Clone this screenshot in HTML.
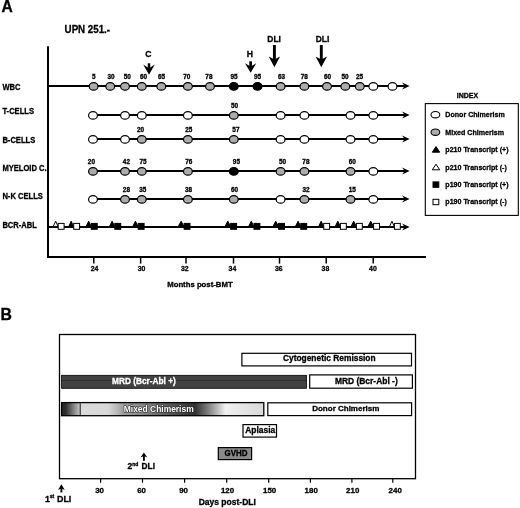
<!DOCTYPE html>
<html><head><meta charset="utf-8"><style>
html,body{margin:0;padding:0;background:#fff;}
body{width:520px;height:508px;overflow:hidden;}
svg{display:block;filter:grayscale(1);}
text{font-family:"Liberation Sans",sans-serif;font-weight:bold;}
</style></head><body>
<svg width="520" height="508" viewBox="0 0 520 508">
<rect x="0" y="0" width="520" height="508" fill="#fff"/>
<text transform="translate(1.4,12.1) scale(0.9524,1)" font-size="16.380" text-anchor="start" fill="#000" stroke="#000" stroke-width="0.3">A</text>
<text transform="translate(64.6,32.6) scale(0.8772,1)" font-size="11.115" text-anchor="start" fill="#000" stroke="#000" stroke-width="0.3">UPN 251.-</text>
<line x1="48" y1="46.3" x2="48" y2="258" stroke="#000" stroke-width="2.0"/>
<line x1="47" y1="257" x2="426" y2="257" stroke="#000" stroke-width="2.0"/>
<line x1="93.8" y1="257" x2="93.8" y2="263.6" stroke="#000" stroke-width="1.5"/>
<text transform="translate(94.5,271.4) scale(0.9259,1)" font-size="7.452" text-anchor="middle" fill="#000" stroke="#000" stroke-width="0.3">24</text>
<line x1="140.6" y1="257" x2="140.6" y2="263.6" stroke="#000" stroke-width="1.5"/>
<text transform="translate(141.6,271.4) scale(0.9259,1)" font-size="7.452" text-anchor="middle" fill="#000" stroke="#000" stroke-width="0.3">30</text>
<line x1="186.0" y1="257" x2="186.0" y2="263.6" stroke="#000" stroke-width="1.5"/>
<text transform="translate(184.8,271.4) scale(0.9259,1)" font-size="7.452" text-anchor="middle" fill="#000" stroke="#000" stroke-width="0.3">32</text>
<line x1="233.5" y1="257" x2="233.5" y2="263.6" stroke="#000" stroke-width="1.5"/>
<text transform="translate(232.4,271.4) scale(0.9259,1)" font-size="7.452" text-anchor="middle" fill="#000" stroke="#000" stroke-width="0.3">34</text>
<line x1="279.5" y1="257" x2="279.5" y2="263.6" stroke="#000" stroke-width="1.5"/>
<text transform="translate(278.8,271.4) scale(0.9259,1)" font-size="7.452" text-anchor="middle" fill="#000" stroke="#000" stroke-width="0.3">36</text>
<line x1="326.2" y1="257" x2="326.2" y2="263.6" stroke="#000" stroke-width="1.5"/>
<text transform="translate(325.4,271.4) scale(0.9259,1)" font-size="7.452" text-anchor="middle" fill="#000" stroke="#000" stroke-width="0.3">38</text>
<line x1="373.2" y1="257" x2="373.2" y2="263.6" stroke="#000" stroke-width="1.5"/>
<text transform="translate(372.9,271.4) scale(0.9259,1)" font-size="7.452" text-anchor="middle" fill="#000" stroke="#000" stroke-width="0.3">40</text>
<text x="167.2" y="287.1" font-size="7.75" text-anchor="start" fill="#000" stroke="#000" stroke-width="0.3">Months post-BMT</text>
<text x="148.4" y="56.9" font-size="8.6" text-anchor="middle" fill="#000" stroke="#000" stroke-width="0.3">C</text>
<rect x="147.75" y="63.3" width="2.5" height="5.400000000000006" fill="#000"/>
<polygon points="143.2,64.4 149.0,68.2 154.8,64.4 149.0,74.8" fill="#000"/>
<text x="249.8" y="57.1" font-size="8.6" text-anchor="middle" fill="#000" stroke="#000" stroke-width="0.3">H</text>
<rect x="249.25" y="61.3" width="2.7" height="5.700000000000003" fill="#000"/>
<polygon points="245.0,63.3 250.6,66.5 256.2,63.3 250.6,72.7" fill="#000"/>
<text x="274.1" y="42.2" font-size="8.4" text-anchor="middle" fill="#000" stroke="#000" stroke-width="0.3">DLI</text>
<rect x="272.95" y="45.0" width="2.9" height="15.0" fill="#000"/>
<polygon points="268.7,56.4 274.4,59.5 280.09999999999997,56.4 274.4,67.3" fill="#000"/>
<text x="322.5" y="42.2" font-size="8.4" text-anchor="middle" fill="#000" stroke="#000" stroke-width="0.3">DLI</text>
<rect x="319.85" y="45.0" width="2.9" height="15.0" fill="#000"/>
<polygon points="315.6,56.4 321.3,59.5 327.0,56.4 321.3,67.3" fill="#000"/>
<text transform="translate(2.4,89.8) scale(0.9091,1)" font-size="8.360" text-anchor="start" fill="#000" stroke="#000" stroke-width="0.3">WBC</text>
<text transform="translate(2.4,114.2) scale(0.9091,1)" font-size="8.360" text-anchor="start" fill="#000" stroke="#000" stroke-width="0.3">T-CELLS</text>
<text transform="translate(2.4,142.7) scale(0.9091,1)" font-size="8.360" text-anchor="start" fill="#000" stroke="#000" stroke-width="0.3">B-CELLS</text>
<text transform="translate(2.4,171.3) scale(0.9091,1)" font-size="8.360" text-anchor="start" fill="#000" stroke="#000" stroke-width="0.3">MYELOID C.</text>
<text transform="translate(2.4,199.3) scale(0.9091,1)" font-size="8.360" text-anchor="start" fill="#000" stroke="#000" stroke-width="0.3">N-K CELLS</text>
<text transform="translate(2.4,228.0) scale(0.9091,1)" font-size="8.360" text-anchor="start" fill="#000" stroke="#000" stroke-width="0.3">BCR-ABL</text>
<line x1="48" y1="86.0" x2="405" y2="86.0" stroke="#000" stroke-width="1.8"/>
<polygon points="409.6,86.0 402.1,82.6 404.6,86.0 402.1,89.4" fill="#000"/>
<line x1="92.7" y1="115.0" x2="405" y2="115.0" stroke="#000" stroke-width="1.8"/>
<polygon points="409.6,115.0 402.1,111.6 404.6,115.0 402.1,118.4" fill="#000"/>
<line x1="92.7" y1="139.0" x2="405" y2="139.0" stroke="#000" stroke-width="1.8"/>
<polygon points="409.6,139.0 402.1,135.6 404.6,139.0 402.1,142.4" fill="#000"/>
<line x1="92.7" y1="171.0" x2="405" y2="171.0" stroke="#000" stroke-width="1.8"/>
<polygon points="409.6,171.0 402.1,167.6 404.6,171.0 402.1,174.4" fill="#000"/>
<line x1="92.7" y1="199.0" x2="405" y2="199.0" stroke="#000" stroke-width="1.8"/>
<polygon points="409.6,199.0 402.1,195.6 404.6,199.0 402.1,202.4" fill="#000"/>
<line x1="48" y1="227.0" x2="405" y2="227.0" stroke="#000" stroke-width="1.8"/>
<polygon points="409.6,227.0 402.1,223.6 404.6,227.0 402.1,230.4" fill="#000"/>
<ellipse cx="93.6" cy="86.4" rx="4.4" ry="3.8" fill="#ababab" stroke="#000" stroke-width="1.2"/>
<text x="93.9" y="79.1" font-size="6.4" text-anchor="middle" fill="#000" stroke="#000" stroke-width="0.3">5</text>
<ellipse cx="110.2" cy="86.4" rx="4.4" ry="3.8" fill="#ababab" stroke="#000" stroke-width="1.2"/>
<text x="111.0" y="79.1" font-size="6.4" text-anchor="middle" fill="#000" stroke="#000" stroke-width="0.3">30</text>
<ellipse cx="125.0" cy="86.4" rx="4.4" ry="3.8" fill="#ababab" stroke="#000" stroke-width="1.2"/>
<text x="127.3" y="79.1" font-size="6.4" text-anchor="middle" fill="#000" stroke="#000" stroke-width="0.3">50</text>
<ellipse cx="141.8" cy="86.4" rx="4.4" ry="3.8" fill="#ababab" stroke="#000" stroke-width="1.2"/>
<text x="143.6" y="79.1" font-size="6.4" text-anchor="middle" fill="#000" stroke="#000" stroke-width="0.3">60</text>
<ellipse cx="161.3" cy="86.4" rx="4.4" ry="3.8" fill="#ababab" stroke="#000" stroke-width="1.2"/>
<text x="161.6" y="79.1" font-size="6.4" text-anchor="middle" fill="#000" stroke="#000" stroke-width="0.3">65</text>
<ellipse cx="187.9" cy="86.4" rx="4.4" ry="3.8" fill="#ababab" stroke="#000" stroke-width="1.2"/>
<text x="186.7" y="79.1" font-size="6.4" text-anchor="middle" fill="#000" stroke="#000" stroke-width="0.3">70</text>
<ellipse cx="210.0" cy="86.4" rx="4.4" ry="3.8" fill="#ababab" stroke="#000" stroke-width="1.2"/>
<text x="208.9" y="79.1" font-size="6.4" text-anchor="middle" fill="#000" stroke="#000" stroke-width="0.3">78</text>
<ellipse cx="233.8" cy="86.4" rx="4.4" ry="3.8" fill="#000" stroke="#000" stroke-width="1.2"/>
<text x="234.1" y="79.1" font-size="6.4" text-anchor="middle" fill="#000" stroke="#000" stroke-width="0.3">95</text>
<ellipse cx="257.5" cy="86.4" rx="4.4" ry="3.8" fill="#000" stroke="#000" stroke-width="1.2"/>
<text x="257.6" y="79.1" font-size="6.4" text-anchor="middle" fill="#000" stroke="#000" stroke-width="0.3">95</text>
<ellipse cx="280.6" cy="86.4" rx="4.4" ry="3.8" fill="#ababab" stroke="#000" stroke-width="1.2"/>
<text x="281.6" y="79.1" font-size="6.4" text-anchor="middle" fill="#000" stroke="#000" stroke-width="0.3">63</text>
<ellipse cx="304.4" cy="86.4" rx="4.4" ry="3.8" fill="#ababab" stroke="#000" stroke-width="1.2"/>
<text x="304.3" y="79.1" font-size="6.4" text-anchor="middle" fill="#000" stroke="#000" stroke-width="0.3">78</text>
<ellipse cx="327.0" cy="86.4" rx="4.4" ry="3.8" fill="#ababab" stroke="#000" stroke-width="1.2"/>
<text x="327.5" y="79.1" font-size="6.4" text-anchor="middle" fill="#000" stroke="#000" stroke-width="0.3">60</text>
<ellipse cx="345.3" cy="86.4" rx="4.4" ry="3.8" fill="#ababab" stroke="#000" stroke-width="1.2"/>
<text x="345.0" y="79.1" font-size="6.4" text-anchor="middle" fill="#000" stroke="#000" stroke-width="0.3">50</text>
<ellipse cx="359.8" cy="86.4" rx="4.4" ry="3.8" fill="#ababab" stroke="#000" stroke-width="1.2"/>
<text x="359.5" y="79.1" font-size="6.4" text-anchor="middle" fill="#000" stroke="#000" stroke-width="0.3">25</text>
<ellipse cx="373.3" cy="86.4" rx="4.4" ry="3.8" fill="#fff" stroke="#000" stroke-width="1.2"/>
<ellipse cx="392.5" cy="86.4" rx="4.4" ry="3.8" fill="#fff" stroke="#000" stroke-width="1.2"/>
<ellipse cx="93.0" cy="115.4" rx="4.4" ry="3.8" fill="#fff" stroke="#000" stroke-width="1.2"/>
<ellipse cx="125.0" cy="115.4" rx="4.4" ry="3.8" fill="#fff" stroke="#000" stroke-width="1.2"/>
<ellipse cx="141.8" cy="115.4" rx="4.4" ry="3.8" fill="#fff" stroke="#000" stroke-width="1.2"/>
<ellipse cx="187.9" cy="115.4" rx="4.4" ry="3.8" fill="#fff" stroke="#000" stroke-width="1.2"/>
<ellipse cx="233.8" cy="115.4" rx="4.4" ry="3.8" fill="#ababab" stroke="#000" stroke-width="1.2"/>
<text x="234.6" y="108.1" font-size="6.4" text-anchor="middle" fill="#000" stroke="#000" stroke-width="0.3">50</text>
<ellipse cx="280.6" cy="115.4" rx="4.4" ry="3.8" fill="#fff" stroke="#000" stroke-width="1.2"/>
<ellipse cx="304.4" cy="115.4" rx="4.4" ry="3.8" fill="#fff" stroke="#000" stroke-width="1.2"/>
<ellipse cx="350.5" cy="115.4" rx="4.4" ry="3.8" fill="#fff" stroke="#000" stroke-width="1.2"/>
<ellipse cx="373.3" cy="115.4" rx="4.4" ry="3.8" fill="#fff" stroke="#000" stroke-width="1.2"/>
<ellipse cx="93.0" cy="139.4" rx="4.4" ry="3.8" fill="#fff" stroke="#000" stroke-width="1.2"/>
<ellipse cx="125.0" cy="139.4" rx="4.4" ry="3.8" fill="#fff" stroke="#000" stroke-width="1.2"/>
<ellipse cx="141.8" cy="139.4" rx="4.4" ry="3.8" fill="#ababab" stroke="#000" stroke-width="1.2"/>
<text x="140.5" y="132.1" font-size="6.4" text-anchor="middle" fill="#000" stroke="#000" stroke-width="0.3">20</text>
<ellipse cx="187.9" cy="139.4" rx="4.4" ry="3.8" fill="#ababab" stroke="#000" stroke-width="1.2"/>
<text x="188.7" y="132.1" font-size="6.4" text-anchor="middle" fill="#000" stroke="#000" stroke-width="0.3">25</text>
<ellipse cx="233.8" cy="139.4" rx="4.4" ry="3.8" fill="#ababab" stroke="#000" stroke-width="1.2"/>
<text x="235.9" y="132.1" font-size="6.4" text-anchor="middle" fill="#000" stroke="#000" stroke-width="0.3">57</text>
<ellipse cx="280.6" cy="139.4" rx="4.4" ry="3.8" fill="#fff" stroke="#000" stroke-width="1.2"/>
<ellipse cx="304.4" cy="139.4" rx="4.4" ry="3.8" fill="#fff" stroke="#000" stroke-width="1.2"/>
<ellipse cx="350.5" cy="139.4" rx="4.4" ry="3.8" fill="#fff" stroke="#000" stroke-width="1.2"/>
<ellipse cx="373.3" cy="139.4" rx="4.4" ry="3.8" fill="#fff" stroke="#000" stroke-width="1.2"/>
<ellipse cx="93.0" cy="171.4" rx="4.4" ry="3.8" fill="#ababab" stroke="#000" stroke-width="1.2"/>
<text x="91.4" y="164.1" font-size="6.4" text-anchor="middle" fill="#000" stroke="#000" stroke-width="0.3">20</text>
<ellipse cx="125.0" cy="171.4" rx="4.4" ry="3.8" fill="#ababab" stroke="#000" stroke-width="1.2"/>
<text x="126.4" y="164.1" font-size="6.4" text-anchor="middle" fill="#000" stroke="#000" stroke-width="0.3">42</text>
<ellipse cx="141.8" cy="171.4" rx="4.4" ry="3.8" fill="#ababab" stroke="#000" stroke-width="1.2"/>
<text x="143.0" y="164.1" font-size="6.4" text-anchor="middle" fill="#000" stroke="#000" stroke-width="0.3">75</text>
<ellipse cx="187.9" cy="171.4" rx="4.4" ry="3.8" fill="#ababab" stroke="#000" stroke-width="1.2"/>
<text x="188.8" y="164.1" font-size="6.4" text-anchor="middle" fill="#000" stroke="#000" stroke-width="0.3">76</text>
<ellipse cx="233.8" cy="171.4" rx="4.4" ry="3.8" fill="#000" stroke="#000" stroke-width="1.2"/>
<text x="236.4" y="164.1" font-size="6.4" text-anchor="middle" fill="#000" stroke="#000" stroke-width="0.3">95</text>
<ellipse cx="280.6" cy="171.4" rx="4.4" ry="3.8" fill="#ababab" stroke="#000" stroke-width="1.2"/>
<text x="282.5" y="164.1" font-size="6.4" text-anchor="middle" fill="#000" stroke="#000" stroke-width="0.3">50</text>
<ellipse cx="304.4" cy="171.4" rx="4.4" ry="3.8" fill="#ababab" stroke="#000" stroke-width="1.2"/>
<text x="305.9" y="164.1" font-size="6.4" text-anchor="middle" fill="#000" stroke="#000" stroke-width="0.3">78</text>
<ellipse cx="350.5" cy="171.4" rx="4.4" ry="3.8" fill="#ababab" stroke="#000" stroke-width="1.2"/>
<text x="352.2" y="164.1" font-size="6.4" text-anchor="middle" fill="#000" stroke="#000" stroke-width="0.3">60</text>
<ellipse cx="373.3" cy="171.4" rx="4.4" ry="3.8" fill="#fff" stroke="#000" stroke-width="1.2"/>
<ellipse cx="93.0" cy="199.4" rx="4.4" ry="3.8" fill="#fff" stroke="#000" stroke-width="1.2"/>
<ellipse cx="125.0" cy="199.4" rx="4.4" ry="3.8" fill="#ababab" stroke="#000" stroke-width="1.2"/>
<text x="126.4" y="192.1" font-size="6.4" text-anchor="middle" fill="#000" stroke="#000" stroke-width="0.3">28</text>
<ellipse cx="141.8" cy="199.4" rx="4.4" ry="3.8" fill="#ababab" stroke="#000" stroke-width="1.2"/>
<text x="142.7" y="192.1" font-size="6.4" text-anchor="middle" fill="#000" stroke="#000" stroke-width="0.3">35</text>
<ellipse cx="187.9" cy="199.4" rx="4.4" ry="3.8" fill="#ababab" stroke="#000" stroke-width="1.2"/>
<text x="188.6" y="192.1" font-size="6.4" text-anchor="middle" fill="#000" stroke="#000" stroke-width="0.3">38</text>
<ellipse cx="233.8" cy="199.4" rx="4.4" ry="3.8" fill="#ababab" stroke="#000" stroke-width="1.2"/>
<text x="234.6" y="192.1" font-size="6.4" text-anchor="middle" fill="#000" stroke="#000" stroke-width="0.3">60</text>
<ellipse cx="280.6" cy="199.4" rx="4.4" ry="3.8" fill="#fff" stroke="#000" stroke-width="1.2"/>
<ellipse cx="304.4" cy="199.4" rx="4.4" ry="3.8" fill="#ababab" stroke="#000" stroke-width="1.2"/>
<text x="306.0" y="192.1" font-size="6.4" text-anchor="middle" fill="#000" stroke="#000" stroke-width="0.3">32</text>
<ellipse cx="350.5" cy="199.4" rx="4.4" ry="3.8" fill="#ababab" stroke="#000" stroke-width="1.2"/>
<text x="352.3" y="192.1" font-size="6.4" text-anchor="middle" fill="#000" stroke="#000" stroke-width="0.3">15</text>
<ellipse cx="373.3" cy="199.4" rx="4.4" ry="3.8" fill="#fff" stroke="#000" stroke-width="1.2"/>
<polygon points="53.2,226.6 55.699999999999996,221.2 58.099999999999994,226.6" fill="#fff" stroke="#000" stroke-width="1"/>
<rect x="58.199999999999996" y="223.4" width="5.9" height="5.9" fill="#fff" stroke="#000" stroke-width="1"/>
<polygon points="68.7,226.6 71.2,221.2 73.6,226.6" fill="#000" stroke="#000" stroke-width="1"/>
<rect x="73.7" y="223.4" width="5.9" height="5.9" fill="#fff" stroke="#000" stroke-width="1"/>
<polygon points="86.0,226.6 88.64999999999999,221.2 91.2,226.6" fill="#000" stroke="#000" stroke-width="1"/>
<rect x="91.30000000000001" y="223.4" width="5.9" height="5.9" fill="#000" stroke="#000" stroke-width="1"/>
<polygon points="109.4,226.6 112.10000000000001,221.2 114.7,226.6" fill="#000" stroke="#000" stroke-width="1"/>
<rect x="114.80000000000001" y="223.4" width="5.9" height="5.9" fill="#000" stroke="#000" stroke-width="1"/>
<polygon points="132.7,226.6 135.45000000000002,221.2 138.10000000000002,226.6" fill="#000" stroke="#000" stroke-width="1"/>
<rect x="138.20000000000002" y="223.4" width="5.9" height="5.9" fill="#000" stroke="#000" stroke-width="1"/>
<polygon points="178.2,226.6 181.15,221.2 184.0,226.6" fill="#000" stroke="#000" stroke-width="1"/>
<rect x="184.1" y="223.4" width="5.9" height="5.9" fill="#000" stroke="#000" stroke-width="1"/>
<polygon points="224.89999999999998,226.6 227.8,221.2 230.60000000000002,226.6" fill="#000" stroke="#000" stroke-width="1"/>
<rect x="230.70000000000002" y="223.4" width="5.9" height="5.9" fill="#000" stroke="#000" stroke-width="1"/>
<polygon points="248.6,226.6 251.3,221.2 253.9,226.6" fill="#000" stroke="#000" stroke-width="1"/>
<rect x="254.0" y="223.4" width="5.9" height="5.9" fill="#000" stroke="#000" stroke-width="1"/>
<polygon points="272.9,226.6 275.75,221.2 278.5,226.6" fill="#000" stroke="#000" stroke-width="1"/>
<rect x="278.59999999999997" y="223.4" width="5.9" height="5.9" fill="#000" stroke="#000" stroke-width="1"/>
<polygon points="295.4,226.6 298.09999999999997,221.2 300.7,226.6" fill="#000" stroke="#000" stroke-width="1"/>
<rect x="300.79999999999995" y="223.4" width="5.9" height="5.9" fill="#000" stroke="#000" stroke-width="1"/>
<polygon points="318.59999999999997,226.6 321.15000000000003,221.2 323.6,226.6" fill="#000" stroke="#000" stroke-width="1"/>
<rect x="323.7" y="223.4" width="5.9" height="5.9" fill="#fff" stroke="#000" stroke-width="1"/>
<polygon points="335.2,226.6 337.8,221.2 340.3,226.6" fill="#000" stroke="#000" stroke-width="1"/>
<rect x="340.4" y="223.4" width="5.9" height="5.9" fill="#fff" stroke="#000" stroke-width="1"/>
<polygon points="351.0,226.6 353.7,221.2 356.3,226.6" fill="#000" stroke="#000" stroke-width="1"/>
<rect x="356.4" y="223.4" width="5.9" height="5.9" fill="#fff" stroke="#000" stroke-width="1"/>
<polygon points="367.9,226.6 370.75,221.2 373.5,226.6" fill="#000" stroke="#000" stroke-width="1"/>
<rect x="373.59999999999997" y="223.4" width="5.9" height="5.9" fill="#fff" stroke="#000" stroke-width="1"/>
<polygon points="389.5,226.6 391.95,221.2 394.3,226.6" fill="#fff" stroke="#000" stroke-width="1"/>
<rect x="394.4" y="223.4" width="5.9" height="5.9" fill="#fff" stroke="#000" stroke-width="1"/>
<text x="467.5" y="98.3" font-size="7.0" text-anchor="middle" fill="#000" stroke="#000" stroke-width="0.3">INDEX</text>
<rect x="425.3" y="103.6" width="93" height="111.8" fill="none" stroke="#000" stroke-width="1.1"/>
<text transform="translate(445.3,117.2) scale(0.9091,1)" font-size="7.810" text-anchor="start" fill="#000" stroke="#000" stroke-width="0.3">Donor Chimerism</text>
<ellipse cx="435.4" cy="114.7" rx="4.4" ry="3.2" fill="#fff" stroke="#000" stroke-width="1.1"/>
<text transform="translate(445.3,134.7) scale(0.9091,1)" font-size="7.810" text-anchor="start" fill="#000" stroke="#000" stroke-width="0.3">Mixed Chimerism</text>
<ellipse cx="435.4" cy="132.2" rx="4.4" ry="3.2" fill="#ababab" stroke="#000" stroke-width="1.1"/>
<text transform="translate(445.3,152.1) scale(0.9091,1)" font-size="7.810" text-anchor="start" fill="#000" stroke="#000" stroke-width="0.3">p210 Transcript (+)</text>
<polygon points="432.3,152.2 436.0,146.6 439.7,152.2" fill="#000" stroke="#000" stroke-width="1"/>
<text transform="translate(445.3,169.7) scale(0.9091,1)" font-size="7.810" text-anchor="start" fill="#000" stroke="#000" stroke-width="0.3">p210 Transcript (-)</text>
<polygon points="432.3,169.79999999999998 436.0,164.2 439.7,169.79999999999998" fill="#fff" stroke="#000" stroke-width="1"/>
<text transform="translate(445.3,187.0) scale(0.9091,1)" font-size="7.810" text-anchor="start" fill="#000" stroke="#000" stroke-width="0.3">p190 Transcript (+)</text>
<rect x="433.0" y="181.9" width="5.8" height="5.4" fill="#000" stroke="#000" stroke-width="1"/>
<text transform="translate(445.3,204.4) scale(0.9091,1)" font-size="7.810" text-anchor="start" fill="#000" stroke="#000" stroke-width="0.3">p190 Transcript (-)</text>
<rect x="433.0" y="199.3" width="5.8" height="5.4" fill="#fff" stroke="#000" stroke-width="1"/>
<text x="0.6" y="319.5" font-size="15.8" text-anchor="start" fill="#000" stroke="#000" stroke-width="0.3">B</text>
<rect x="59.5" y="334.5" width="356" height="144.2" fill="none" stroke="#000" stroke-width="1.3"/>
<line x1="100.6" y1="478.7" x2="100.6" y2="482.7" stroke="#000" stroke-width="1.2"/>
<text x="99.6" y="493.2" font-size="7.9" text-anchor="middle" fill="#000" stroke="#000" stroke-width="0.3">30</text>
<line x1="142.5" y1="478.7" x2="142.5" y2="482.7" stroke="#000" stroke-width="1.2"/>
<text x="141.6" y="493.2" font-size="7.9" text-anchor="middle" fill="#000" stroke="#000" stroke-width="0.3">60</text>
<line x1="184.6" y1="478.7" x2="184.6" y2="482.7" stroke="#000" stroke-width="1.2"/>
<text x="183.6" y="493.2" font-size="7.9" text-anchor="middle" fill="#000" stroke="#000" stroke-width="0.3">90</text>
<line x1="226.7" y1="478.7" x2="226.7" y2="482.7" stroke="#000" stroke-width="1.2"/>
<text x="227.5" y="493.2" font-size="7.9" text-anchor="middle" fill="#000" stroke="#000" stroke-width="0.3">120</text>
<line x1="268.7" y1="478.7" x2="268.7" y2="482.7" stroke="#000" stroke-width="1.2"/>
<text x="269.6" y="493.2" font-size="7.9" text-anchor="middle" fill="#000" stroke="#000" stroke-width="0.3">150</text>
<line x1="310.4" y1="478.7" x2="310.4" y2="482.7" stroke="#000" stroke-width="1.2"/>
<text x="311.2" y="493.2" font-size="7.9" text-anchor="middle" fill="#000" stroke="#000" stroke-width="0.3">180</text>
<line x1="351.9" y1="478.7" x2="351.9" y2="482.7" stroke="#000" stroke-width="1.2"/>
<text x="352.7" y="493.2" font-size="7.9" text-anchor="middle" fill="#000" stroke="#000" stroke-width="0.3">210</text>
<line x1="392.8" y1="478.7" x2="392.8" y2="482.7" stroke="#000" stroke-width="1.2"/>
<text x="395.2" y="493.2" font-size="7.9" text-anchor="middle" fill="#000" stroke="#000" stroke-width="0.3">240</text>
<text x="198.7" y="504.6" font-size="8.5" text-anchor="start" fill="#000" stroke="#000" stroke-width="0.3">Days post-DLI</text>
<rect x="60.449999999999996" y="487.9" width="1.9" height="4.5" fill="#000"/>
<polygon points="61.4,484.2 64.8,490.0 61.4,488.4 58.0,490.0" fill="#000"/>
<text x="44.9" y="501.6" font-size="8.9" stroke="#000" stroke-width="0.3">1<tspan font-size="5" dy="-3.9">st</tspan></text>
<text x="57.0" y="501.6" font-size="8.9" stroke="#000" stroke-width="0.3">DLI</text>
<rect x="142.95000000000002" y="455.4" width="1.9" height="5.400000000000034" fill="#000"/>
<polygon points="143.9,452.4 147.3,457.5 143.9,455.9 140.5,457.5" fill="#000"/>
<text x="127.4" y="469.4" font-size="8.5" stroke="#000" stroke-width="0.3">2<tspan font-size="5" dy="-3.6">nd</tspan></text>
<text x="141.6" y="469.4" font-size="8.3" stroke="#000" stroke-width="0.3">DLI</text>
<rect x="241.9" y="353.3" width="169.6" height="12.599999999999966" fill="#fff" stroke="#000" stroke-width="1.2"/>
<text x="329.3" y="361.1" font-size="8.4" text-anchor="middle" fill="#000" stroke="#000" stroke-width="0.3">Cytogenetic Remission</text>
<rect x="61.6" y="375.3" width="244.9" height="13.0" fill="#414141" stroke="#000" stroke-width="0.8"/>
<line x1="62" y1="380.5" x2="306.1" y2="380.5" stroke="#2c2c2c" stroke-width="0.9"/>
<text x="112.0" y="383.6" font-size="8.3" text-anchor="start" fill="#fff" stroke="#fff" stroke-width="0.3">MRD (Bcr-Abl +)</text>
<rect x="309.7" y="374.9" width="102.69999999999999" height="13.300000000000011" fill="#fff" stroke="#000" stroke-width="1.2"/>
<text x="334.9" y="383.5" font-size="8.45" text-anchor="start" fill="#000" stroke="#000" stroke-width="0.3">MRD (Bcr-Abl -)</text>
<defs><linearGradient id="mc" x1="61.6" y1="0" x2="263.8" y2="0" gradientUnits="userSpaceOnUse">
<stop offset="0" stop-color="#262626"/>
<stop offset="0.02" stop-color="#2e2e2e"/>
<stop offset="0.083" stop-color="#b4b4b4"/>
<stop offset="0.092" stop-color="#dadada"/>
<stop offset="0.23" stop-color="#d8d8d8"/>
<stop offset="0.275" stop-color="#b8b8b8"/>
<stop offset="0.305" stop-color="#9c9c9c"/>
<stop offset="0.388" stop-color="#8a8a8a"/>
<stop offset="0.487" stop-color="#686868"/>
<stop offset="0.585" stop-color="#464646"/>
<stop offset="0.66" stop-color="#303030"/>
<stop offset="0.734" stop-color="#8a8a8a"/>
<stop offset="0.81" stop-color="#f0f0f0"/>
<stop offset="1" stop-color="#d8d8d8"/>
</linearGradient></defs>
<rect x="61.6" y="402.6" width="202.20000000000002" height="13.099999999999966" fill="url(#mc)" stroke="#000" stroke-width="1.3"/>
<line x1="80.2" y1="403.2" x2="80.2" y2="415.1" stroke="#000" stroke-width="0.9"/>
<text x="123.8" y="411.6" font-size="8.45" text-anchor="start" fill="#fff" stroke="#2a2a2a" stroke-width="1.1" paint-order="stroke" stroke-linejoin="round">Mixed Chimerism</text>
<rect x="267.8" y="402.8" width="143.8" height="12.800000000000011" fill="#fff" stroke="#000" stroke-width="1.2"/>
<text x="312.2" y="410.7" font-size="8.0" text-anchor="start" fill="#000" stroke="#000" stroke-width="0.3">Donor Chimerism</text>
<rect x="243.0" y="424.6" width="33.5" height="12.5" fill="#fff" stroke="#000" stroke-width="1.2"/>
<text x="245.2" y="433.0" font-size="8.45" text-anchor="start" fill="#000" stroke="#000" stroke-width="0.3">Aplasia</text>
<rect x="218.3" y="447.6" width="33.29999999999998" height="12.0" fill="#8a8a8a" stroke="#000" stroke-width="1.2"/>
<text transform="translate(224.6,456.0) scale(0.8929,1)" font-size="8.904" text-anchor="start" fill="#000" stroke="#000" stroke-width="0.3">GVHD</text>
</svg>
</body></html>
